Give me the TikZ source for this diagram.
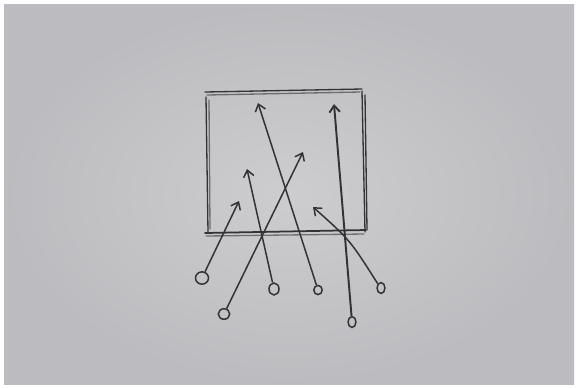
\documentclass[tikz,border=0pt]{standalone}
\usepackage{tikz}
\usetikzlibrary{arrows.meta,shapes.geometric}

\definecolor{paper}{RGB}{205,205,207}
\definecolor{paperedge}{RGB}{188,188,192}
\definecolor{pencil}{RGB}{50,50,55}

\tikzset{
  lead/.style={draw=pencil,line width=0.85pt,-{Straight Barb[length=3.8pt,width=6pt]}},
  frame/.style={draw=pencil,line width=0.75pt,line cap=round},
  ring/.style={draw=pencil,line width=0.85pt,ellipse,inner sep=0pt,minimum width=#1}
}

\begin{document}
\begin{tikzpicture}[x=0.02cm,y=-0.02cm]
  \useasboundingbox (0,0) rectangle (577,387);
  \fill[white] (0,0) rectangle (577,387);
  \shade[inner color=paper,outer color=paperedge] (4,4) rectangle (574,384);

  % frame, drawn twice like the pencil
  \draw[frame] (205,92)--(362,89);
  \draw[frame,draw opacity=0.6] (207,95)--(360,92);
  \draw[frame] (206,97)--(208,232);
  \draw[frame,draw opacity=0.6] (209,100)--(210,229);
  \draw[frame] (362,91)--(365,232);
  \draw[frame] (365,95)--(367,230);
  \draw[frame,line width=1pt] (205,233)--(366,230);
  \draw[frame,draw opacity=0.6] (206,236)--(364,234);

  % starting points
  \node[ring=7.4pt,minimum height=7pt] (c1) at (202,278) {};
  \node[ring=6.5pt,minimum height=6pt] (c2) at (224,314) {};
  \node[ring=5.7pt,minimum height=6.8pt] (c3) at (274,289) {};
  \node[ring=4.8pt,minimum height=5.2pt] (c4) at (318,290) {};
  \node[ring=4.5pt,minimum height=6.2pt] (c5) at (381,288) {};
  \node[ring=4.5pt,minimum height=6.2pt] (c6) at (352,322) {};

  % arrow heads
  \coordinate (t1) at (239,201);
  \coordinate (t2) at (303,152);
  \coordinate (t3) at (247,169);
  \coordinate (t4) at (258,103);
  \coordinate (t5) at (334,104);
  \coordinate (t6) at (313,207);

  \draw[lead] (c1) -- (t1);
  \draw[lead] (c2) -- (t2);
  \draw[lead] (c3) -- (t3);
  \draw[lead] (c4) -- (t4);
  \draw[lead,line width=1.1pt] (c6) -- (t5);
  \draw[lead] (c5.north west) .. controls (350,240) .. (t6);
\end{tikzpicture}
\end{document}
